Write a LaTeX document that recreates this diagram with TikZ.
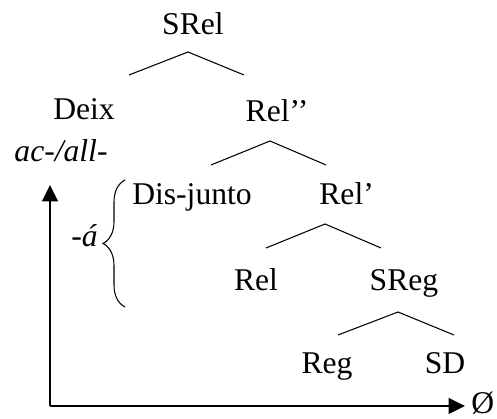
\documentclass[tikz,border=0pt]{standalone}
\usepackage{fontspec}
\setmainfont{Liberation Serif}
\usetikzlibrary{arrows.meta,decorations.pathreplacing}

\begin{document}
\begin{tikzpicture}[
  cat/.style={anchor=base,inner sep=0pt,font=\fontsize{18}{22}\selectfont},
  morph/.style={cat,font=\fontsize{18}{22}\selectfont\itshape},
  branch/.style={line width=0.6pt},
  axis/.style={line width=0.9pt,-{Triangle[length=3.3mm,width=3.2mm]}},
]
\useasboundingbox (0,0) rectangle (9.94,8.38);

% Root and first split
\node[cat] (srel) at (3.86,7.68) {SRel};
\coordinate (b1) at (3.76,7.34);
\coordinate (b1l) at (2.58,6.88);
\coordinate (b1r) at (4.88,6.88);
\draw[branch] (b1l) -- (b1) -- (b1r);

\node[cat] (deix) at (1.68,5.98) {Deix};
\node[cat] (relbar2) at (5.54,5.94) {Rel’’};

% Second split
\coordinate (b2) at (5.40,5.56);
\coordinate (b2l) at (4.22,5.08);
\coordinate (b2r) at (6.52,5.08);
\draw[branch] (b2l) -- (b2) -- (b2r);

\node[morph] (acall) at (1.22,5.14) {ac-/all-};
\node[cat] (disj) at (3.84,4.28) {Dis-junto};
\node[cat,anchor=base west] (relbar1) at (6.38,4.28) {Rel’};

% Third split
\coordinate (b3) at (6.50,3.90);
\coordinate (b3l) at (5.32,3.42);
\coordinate (b3r) at (7.62,3.42);
\draw[branch] (b3l) -- (b3) -- (b3r);

\node[cat] (rel) at (5.12,2.56) {Rel};
\node[cat] (sreg) at (8.08,2.56) {SReg};

% Fourth split
\coordinate (b4) at (7.96,2.14);
\coordinate (b4l) at (6.76,1.68);
\coordinate (b4r) at (9.08,1.68);
\draw[branch] (b4l) -- (b4) -- (b4r);

\node[cat] (reg) at (6.54,0.90) {Reg};
\node[cat] (sd) at (8.90,0.90) {SD};

% Brace over the lower span
\coordinate (brbot) at (2.50,2.24);
\coordinate (brtop) at (2.50,4.78);
\draw[branch,decorate,decoration={brace,amplitude=4.4mm}] (brbot) -- (brtop);
\node[morph] (acc) at (1.69,3.44) {-á};

% Axes
\coordinate (origin) at (1.00,0.26);
\coordinate (ytop) at (1.00,4.68);
\coordinate (xend) at (9.30,0.26);
\draw[axis] (origin) -- (ytop);
\draw[axis] (origin) -- (xend);
\node[cat,anchor=base west] (empty) at (9.42,0.10) {Ø};

\end{tikzpicture}
\end{document}
